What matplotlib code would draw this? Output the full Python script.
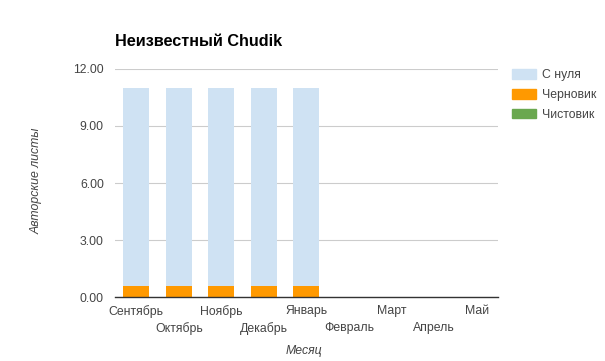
import matplotlib
matplotlib.use("Agg")
import matplotlib.pyplot as plt
import numpy as np
from matplotlib.patches import Patch

plt.rcParams['font.family'] = ['Liberation Sans', 'DejaVu Sans']

months = ["Сентябрь", "Октябрь", "Ноябрь", "Декабрь", "Январь",
          "Февраль", "Март", "Апрель", "Май"]
chernovik = [0.6, 0.6, 0.6, 0.6, 0.6, 0, 0, 0, 0]
s_nulya = [10.4, 10.4, 10.4, 10.4, 10.4, 0, 0, 0, 0]
chistovik = [0, 0, 0, 0, 0, 0, 0, 0, 0]
yticks = [0, 3, 6, 9, 12]

c_blue = "#cfe2f3"
c_orange = "#ff9900"
c_green = "#6aa84f"
fs = 8.8
tc = "#444444"

fig = plt.figure(figsize=(6.05, 3.61), dpi=100)
ax = fig.add_axes([0.19, 0.177, 0.633, 0.632])

x = np.arange(len(months))
w = 0.61
ax.bar(x, chernovik, w, color=c_orange, zorder=3)
ax.bar(x, s_nulya, w, bottom=chernovik, color=c_blue, zorder=3)
ax.bar(x, chistovik, w, bottom=np.array(chernovik) + np.array(s_nulya), color=c_green, zorder=3)

ax.set_xlim(-0.5, len(months) - 0.5)
ax.set_ylim(0, 12)
ax.set_yticks(yticks)
ax.set_yticklabels([f"{v:.2f}" for v in yticks], color=tc, fontsize=fs)
ax.grid(axis='y', color="#cccccc", linewidth=0.8, zorder=0)
for s in ['top', 'right', 'left']:
    ax.spines[s].set_visible(False)
ax.spines['bottom'].set_color("#333333")
ax.spines['bottom'].set_linewidth(1.0)
ax.spines['bottom'].set_zorder(4)
ax.tick_params(axis='both', length=0, pad=8)

ax.set_xticks(x)
ax.set_xticklabels([])
for i, m in enumerate(months):
    yoff = -0.035 if i % 2 == 0 else -0.11
    ax.text(i, yoff, m, transform=ax.get_xaxis_transform(), ha='center', va='top',
            fontsize=fs, color=tc)

fig.text(0.19, 0.885, "Неизвестный Chudik", fontsize=11.7, fontweight='bold',
         ha='left', va='center', color="#000000")
fig.text(0.06, 0.5, "Авторские листы", rotation=90, fontstyle='italic',
         fontsize=fs, color=tc, ha='center', va='center')
fig.text(0.503, 0.028, "Месяц", fontstyle='italic', fontsize=fs,
         color=tc, ha='center', va='center')

handles = [Patch(color=c_blue, label="С нуля"),
           Patch(color=c_orange, label="Черновик"),
           Patch(color=c_green, label="Чистовик")]
fig.legend(handles=handles, loc='upper left', bbox_to_anchor=(0.836, 0.825),
           frameon=False, fontsize=fs, handlelength=2.0, handleheight=0.85,
           labelspacing=0.62, handletextpad=0.45, borderpad=0, labelcolor=tc)

fig.savefig("out.png", dpi=100)
